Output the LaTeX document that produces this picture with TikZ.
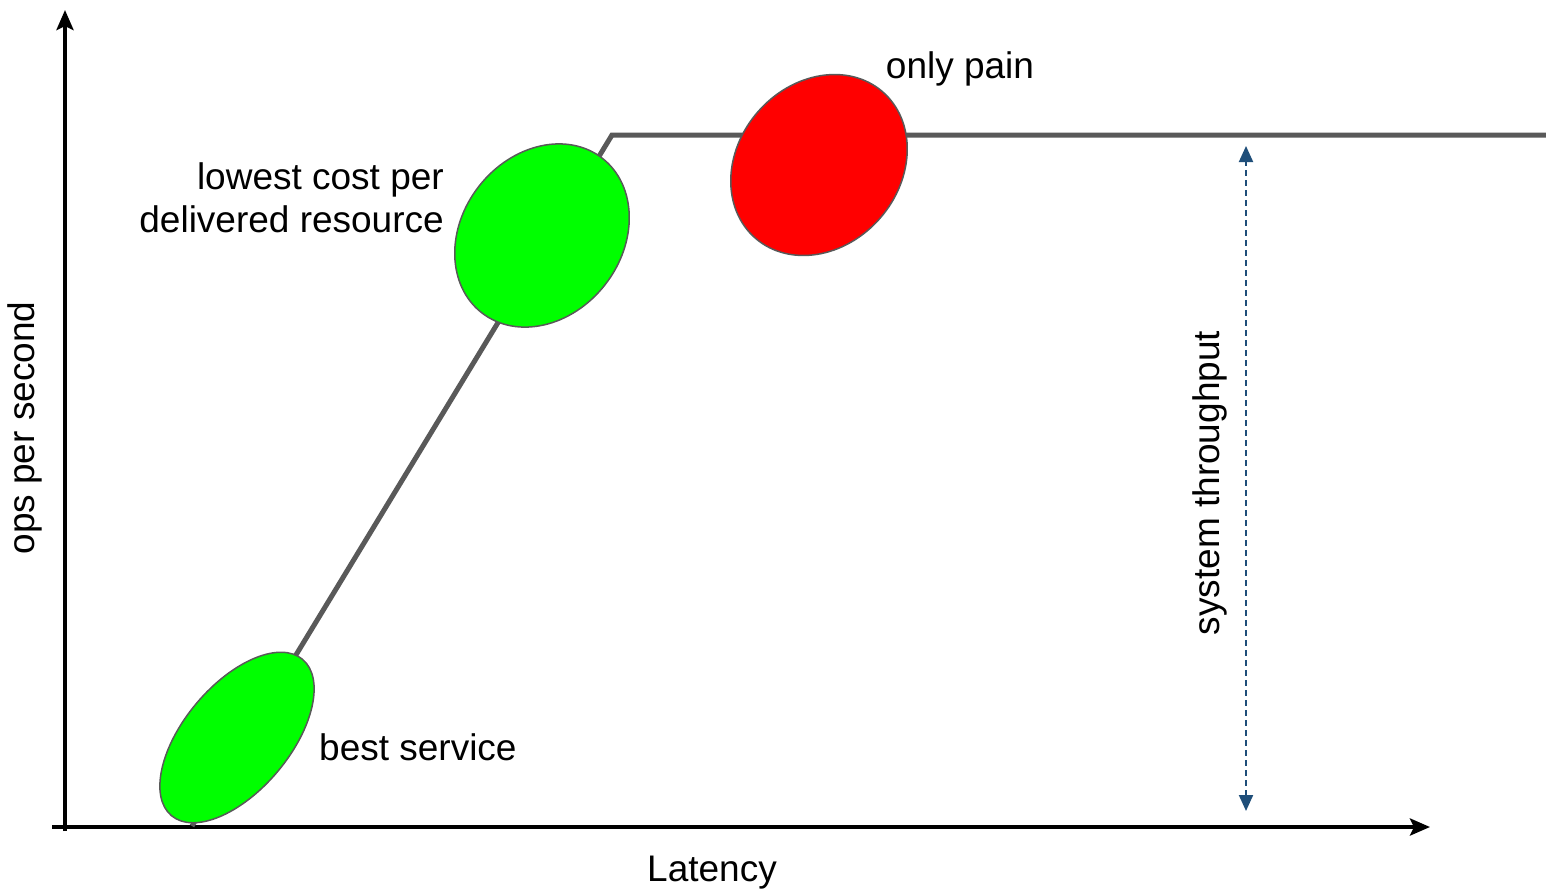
\documentclass[tikz,border=0pt]{standalone}
\usepackage{fontspec}
\setmainfont{Liberation Sans}
\usetikzlibrary{arrows.meta,shapes.geometric}
\definecolor{curvegray}{HTML}{595959}
\definecolor{dblue}{HTML}{1F4E79}
\definecolor{blobgreen}{HTML}{00FF00}
\definecolor{blobred}{HTML}{FF0000}
\begin{document}
\begin{tikzpicture}[x=1pt,y=-1pt,
  lbl/.style={font=\fontsize{37}{43}\selectfont, inner sep=0pt},
  axis/.style={line width=4pt, draw=black, -{Stealth[length=20pt,width=17pt,inset=4pt]}},
  curve/.style={line width=5pt, draw=curvegray},
  blob/.style={ellipse, draw=curvegray, line width=1.5pt, inner sep=0pt},
  measure/.style={draw=dblue, line width=2pt, dash pattern=on 6pt off 4pt,
     {Triangle[length=16pt,width=14pt]}-{Triangle[length=16pt,width=14pt]}}]
\useasboundingbox (0,0) rectangle (1546,892);
% axes
\coordinate (yb) at (65,831);
\coordinate (yt) at (65,10);
\coordinate (xl) at (52,827);
\coordinate (xr) at (1430,827);
\draw[axis] (yb) -- (yt);
\draw[axis] (xl) -- (xr);
% throughput curve
\coordinate (c0) at (192,826);
\coordinate (c1) at (612,135);
\coordinate (c2) at (1546,135);
\draw[curve] (c0) -- (c1) -- (c2);
% ellipses
\node[blob, fill=blobgreen, minimum width=204pt, minimum height=106pt, rotate=50] (best) at (237,737.5) {};
\node[blob, fill=blobgreen, minimum width=196pt, minimum height=160pt, rotate=52] (low) at (542,235.5) {};
\node[blob, fill=blobred, minimum width=194pt, minimum height=162pt, rotate=49] (pain) at (819,165) {};
% measurement arrow
\coordinate (mt) at (1246,146);
\coordinate (mb) at (1246,811);
\draw[measure] (mb) -- (mt);
% labels
\node[lbl] (tpain) at (960,69) {only pain};
\node[lbl, anchor=east, align=right] (tlow) at (444,198) {lowest cost per\\delivered resource};
\node[lbl, anchor=west] (tbest) at (319,747) {best service};
\node[lbl] (tlat) at (712,873) {Latency};
\node[lbl, rotate=90] (tops) at (25,428) {ops per second};
\node[lbl, rotate=90] (tsys) at (1210,483) {system throughput};
\end{tikzpicture}
\end{document}
